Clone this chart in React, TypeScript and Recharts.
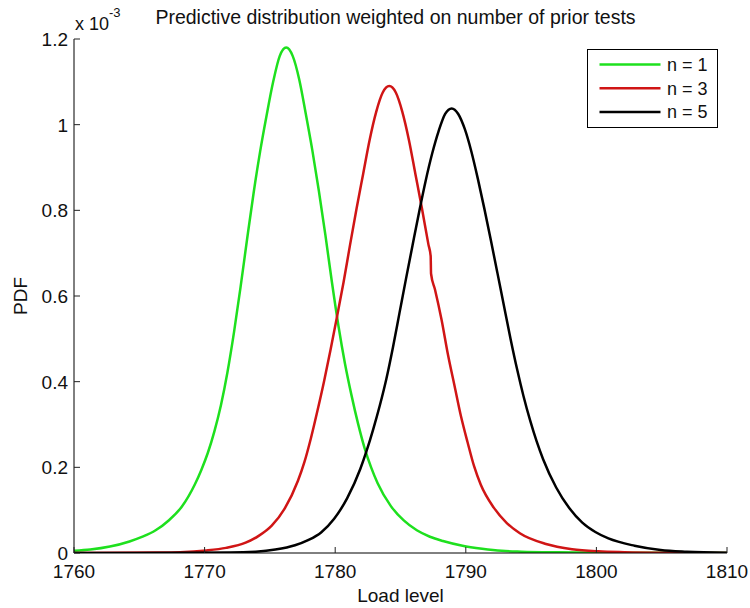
import React from 'react';
import { LineChart, Line, XAxis, YAxis, Legend, Label } from 'recharts';

// ---- data (PDF values in units of 1e-3) ----
const loadN1 = [1760, 1761.25, 1762.75, 1764.25, 1765.25, 1766.25, 1767.25, 1768.25, 1769.25, 1769.75, 1770.25, 1770.75, 1771.25, 1771.75, 1772.25, 1772.75, 1773.25, 1773.75, 1774.25, 1774.75, 1775.25, 1775.75, 1776.25, 1776.75, 1777.25, 1777.75, 1778.25, 1778.75, 1779.25, 1779.75, 1780.25, 1780.75, 1781.25, 1781.75, 1782.25, 1782.75, 1783.25, 1784.25, 1785.25, 1786.25, 1787.25, 1788.25, 1789.75, 1791.25, 1792.75, 1794.25, 1797, 1802, 1810];
const pdfN1 = [0.005, 0.008, 0.015, 0.027, 0.038, 0.053, 0.076, 0.108, 0.160, 0.194, 0.234, 0.284, 0.345, 0.422, 0.515, 0.620, 0.732, 0.840, 0.937, 1.022, 1.100, 1.160, 1.180, 1.160, 1.105, 1.025, 0.940, 0.845, 0.742, 0.632, 0.530, 0.442, 0.368, 0.302, 0.245, 0.200, 0.163, 0.110, 0.076, 0.053, 0.038, 0.028, 0.017, 0.010, 0.005, 0.003, 0.0015, 0.0006, 0.0002];

const loadN3 = [1760, 1766.14, 1768.14, 1770.14, 1771.64, 1773.14, 1774.14, 1775.14, 1776.14, 1777.14, 1777.64, 1778.14, 1778.64, 1779.14, 1779.64, 1780.14, 1780.64, 1781.14, 1781.64, 1782.14, 1782.64, 1783.14, 1783.64, 1784.14, 1784.64, 1785.14, 1785.64, 1786.14, 1786.64, 1787.14, 1787.31, 1787.34, 1787.64, 1788.14, 1788.64, 1789.14, 1789.64, 1790.14, 1790.64, 1791.14, 1792.14, 1793.14, 1794.14, 1796.14, 1798.14, 1800.14, 1802.14, 1806, 1810];
const pdfN3 = [0.0, 0.001, 0.002, 0.006, 0.012, 0.024, 0.040, 0.064, 0.104, 0.168, 0.212, 0.268, 0.332, 0.400, 0.474, 0.552, 0.632, 0.720, 0.805, 0.885, 0.965, 1.030, 1.075, 1.090, 1.075, 1.030, 0.965, 0.885, 0.805, 0.720, 0.693, 0.652, 0.615, 0.545, 0.462, 0.390, 0.318, 0.258, 0.202, 0.160, 0.106, 0.070, 0.046, 0.021, 0.009, 0.004, 0.002, 0.0005, 0.0];

const loadN5 = [1760, 1771.92, 1773.92, 1775.42, 1776.92, 1777.92, 1778.92, 1779.92, 1780.92, 1781.92, 1782.42, 1782.92, 1783.42, 1783.92, 1784.42, 1784.92, 1785.42, 1785.92, 1786.42, 1786.92, 1787.42, 1787.92, 1788.42, 1788.92, 1789.42, 1789.92, 1790.42, 1790.92, 1791.42, 1791.92, 1792.42, 1792.92, 1793.42, 1793.92, 1794.42, 1794.92, 1795.42, 1795.92, 1796.92, 1797.92, 1798.92, 1799.92, 1800.92, 1802.92, 1804.92, 1806.92, 1810];
const pdfN5 = [0.0, 0.001, 0.003, 0.008, 0.018, 0.030, 0.048, 0.080, 0.128, 0.196, 0.240, 0.290, 0.345, 0.407, 0.480, 0.560, 0.640, 0.718, 0.795, 0.868, 0.932, 0.985, 1.025, 1.038, 1.025, 0.990, 0.938, 0.874, 0.804, 0.730, 0.654, 0.577, 0.501, 0.430, 0.366, 0.310, 0.261, 0.219, 0.153, 0.105, 0.071, 0.049, 0.034, 0.017, 0.007, 0.003, 0.0005];

const seriesNames = ['n = 1', 'n = 3', 'n = 5'];
const seriesColors = ['#1ee01e', '#d01515', '#000000'];

const xTicks = [1760, 1770, 1780, 1790, 1800, 1810];
const yTicks = [0, 0.2, 0.4, 0.6, 0.8, 1, 1.2];

const titleText = 'Predictive distribution weighted on number of prior tests';
const xLabelText = 'Load level';
const yLabelText = 'PDF';

const toPoints = (xs: number[], ys: number[]) => xs.map((x, i) => ({ x, y: ys[i] }));
const seriesData = [toPoints(loadN1, pdfN1), toPoints(loadN3, pdfN3), toPoints(loadN5, pdfN5)];

// ---- layout ----
const PAGE_W = 750;
const PAGE_H = 608;
const PAD = 8;
const CHART_W = 742;
const CHART_H = 600;
const Y_AXIS_W = 66;
const X_AXIS_H = 55;
const TICK_GAP_X = 11;
const TICK_GAP_Y = 6;
const TICK_LEN = 6;
const FONT = "'Liberation Sans', Arial, Helvetica, sans-serif";

const XTick = (props: any) => {
  const { x, y, payload } = props;
  return (
    <g>
      <line x1={x} x2={x} y1={y - TICK_GAP_X} y2={y - TICK_GAP_X - TICK_LEN} stroke="#222" strokeWidth={1} />
      <text x={x} y={y} dy="0.72em" textAnchor="middle" fontSize={19} fill="#111" fontFamily={FONT}>
        {String(payload.value)}
      </text>
    </g>
  );
};

const YTick = (props: any) => {
  const { x, y, payload } = props;
  return (
    <g>
      <line x1={x + TICK_GAP_Y} x2={x + TICK_GAP_Y + TICK_LEN} y1={y} y2={y} stroke="#222" strokeWidth={1} />
      <text x={x} y={y} dy="0.36em" textAnchor="end" fontSize={19} fill="#111" fontFamily={FONT}>
        {String(payload.value)}
      </text>
    </g>
  );
};

const renderLegend = (props: any) => {
  const payload = props.payload || [];
  return (
    <svg width={131} height={79} style={{ display: 'block' }}>
      <rect x={0.5} y={0.5} width={130} height={78} fill="#fff" stroke="#000" strokeWidth={1} />
      {payload.map((entry: any, i: number) => {
        const cy = 15.5 + i * 23.7;
        return (
          <g key={i}>
            <line x1={12.5} x2={73.5} y1={cy} y2={cy} stroke={entry.color} strokeWidth={2.5} />
            <text x={80} y={cy} dy="0.36em" fontSize={18} fill="#111" fontFamily={FONT}>
              {entry.value}
            </text>
          </g>
        );
      })}
    </svg>
  );
};

export default function App() {
  return (
    <div style={{ position: 'relative', width: PAGE_W, height: PAGE_H, background: '#fff', overflow: 'hidden' }}>
      <style>{'html,body{margin:0;padding:0;overflow:hidden;background:#fff}'}</style>
      <div style={{ position: 'absolute', left: PAD, top: PAD, width: CHART_W, height: CHART_H }}>
        <LineChart
          width={CHART_W}
          height={CHART_H}
          margin={{ top: 31, right: 23, bottom: 0, left: 0 }}
          style={{ fontFamily: FONT, overflow: 'visible' }}
        >
          <XAxis
            dataKey="x"
            type="number"
            domain={[1760, 1810]}
            ticks={xTicks}
            allowDataOverflow
            height={X_AXIS_H}
            tickSize={0}
            tickLine={false}
            tickMargin={TICK_GAP_X}
            tick={<XTick />}
            axisLine={{ stroke: '#000', strokeWidth: 1 }}
          >
            <Label value={xLabelText} position="insideBottom" offset={6} fontSize={19} fill="#111" fontFamily={FONT} />
          </XAxis>
          <YAxis
            dataKey="y"
            type="number"
            domain={[0, 1.2]}
            ticks={yTicks}
            allowDataOverflow
            width={Y_AXIS_W}
            tickSize={0}
            tickLine={false}
            tickMargin={TICK_GAP_Y}
            tick={<YTick />}
            axisLine={{ stroke: '#000', strokeWidth: 1 }}
          >
            <Label
              value={yLabelText}
              angle={-90}
              position="insideLeft"
              offset={12}
              fontSize={19}
              fill="#111"
              fontFamily={FONT}
              style={{ textAnchor: 'middle' }}
            />
          </YAxis>
          {seriesData.map((d, i) => (
            <Line
              key={seriesNames[i]}
              data={d}
              dataKey="y"
              name={seriesNames[i]}
              type="monotone"
              stroke={seriesColors[i]}
              strokeWidth={2.5}
              dot={false}
              activeDot={false}
              isAnimationActive={false}
            />
          ))}
          <Legend
            layout="vertical"
            align="center"
            verticalAlign="middle"
            content={renderLegend}
            wrapperStyle={{ position: 'absolute', left: 578.7, top: 41, width: 131, height: 79 }}
          />
        </LineChart>
        <svg
          width={CHART_W}
          height={CHART_H}
          style={{ position: 'absolute', left: 0, top: 0, pointerEvents: 'none', overflow: 'visible' }}
        >
          <text x={387.5} y={16} textAnchor="middle" fontSize={19.5} fill="#111" fontFamily={FONT}>
            {titleText}
          </text>
          <text x={67} y={22} fontSize={18} fill="#111" fontFamily={FONT}>
            x 10
            <tspan fontSize={13} dy={-13}>-3</tspan>
          </text>
        </svg>
      </div>
    </div>
  );
}
